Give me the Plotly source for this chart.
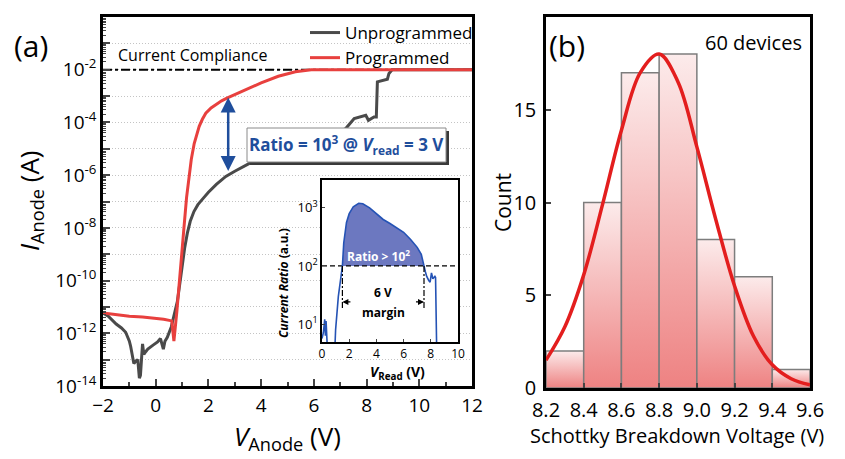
import numpy as np
import plotly.graph_objects as go

# ---------------- (a) I-V data (log10 of anode current, A) ----------------
unprog_v = [-2.0, -1.8, -1.5, -1.3, -1.14, -1.0, -0.95, -0.83, -0.75, -0.68, -0.62, -0.58,
            -0.5, -0.45, -0.38, -0.3, -0.1, 0.07, 0.18, 0.25, 0.29, 0.35, 0.44, 0.59, 0.7,
            0.82, 0.93, 1.0, 1.1, 1.2, 1.31, 1.45, 1.6, 1.8, 2.0, 2.3, 2.66, 3.0, 3.52, 4.0, 5.0,
            6.0, 6.7, 7.0, 7.21, 7.53, 7.97, 8.07, 8.28, 8.37, 8.41, 8.79, 8.85, 8.97, 12.0]
unprog_log_i = [-11.23, -11.35, -11.65, -11.8, -11.96, -12.3, -12.5, -13.15, -13.05, -13.0, -13.7, -13.6,
                -12.4, -12.8, -12.7, -12.6, -12.45, -12.33, -12.2, -12.4, -12.6, -12.3, -12.15, -11.76, -11.3,
                -10.8, -10.0, -9.45, -8.75, -8.2, -7.75, -7.38, -7.12, -6.88, -6.65, -6.35, -6.05, -5.85,
                -5.57, -5.35, -5.0, -4.7, -4.45, -4.35, -4.23, -3.85, -3.73, -3.92, -3.79, -3.79, -2.46,
                -2.36, -2.14, -2.0, -2.0]

prog_v = [-2.0, -1.5, -1.0, -0.5, 0.0, 0.3, 0.61, 0.69, 0.8, 0.92, 1.0, 1.08, 1.17, 1.25, 1.35,
          1.46, 1.55, 1.65, 1.77, 1.9, 2.1, 2.3, 2.5, 2.7, 3.0, 3.5, 4.0, 4.65, 5.3, 5.9, 12.0]
prog_log_i = [-11.23, -11.3, -11.35, -11.38, -11.42, -11.47, -11.53, -12.3, -11.2, -9.9, -8.9, -7.9,
              -6.85, -6.1, -5.4, -4.8, -4.45, -4.15, -3.88, -3.65, -3.45, -3.3, -3.18, -3.08, -2.95,
              -2.72, -2.5, -2.25, -2.08, -2.0, -2.0]

compliance_v = [-2.0, 12.0]
compliance_i = [1e-2, 1e-2]

# ---------------- inset: current ratio vs V_read ----------------
ratio_v = [0.0, 0.1, 0.2, 0.25, 0.3, 0.35, 0.45, 0.9, 1.0, 1.2, 1.5, 1.6, 1.8, 2.0, 2.3, 2.7,
           3.0, 3.5, 4.0, 4.5, 5.0, 5.5, 6.0, 6.5, 7.0, 7.3, 7.4, 7.5, 7.6, 7.7, 7.85, 7.95,
           8.05, 8.15, 8.3, 8.35, 8.45]
ratio_log = [0.75, 0.85, 1.08, 0.8, 1.05, 0.85, 0.3, 0.3, 0.9, 1.47, 2.0, 2.4, 2.75, 2.9, 3.02, 3.08,
             3.07, 3.0, 2.9, 2.8, 2.73, 2.66, 2.58, 2.46, 2.32, 2.2, 2.12, 2.0, 1.9, 1.82, 1.75, 1.72,
             1.88, 1.78, 1.82, 1.8, 0.3]
ratio_threshold = 100.0
margin_v = [1.5, 7.5]
margin_bottom_log = 1.25

# ---------------- (b) histogram ----------------
bin_edges = [8.2, 8.4, 8.6, 8.8, 9.0, 9.2, 9.4, 9.6]
counts = [2, 10, 17, 18, 8, 6, 1]
fit_v = [8.2, 8.3, 8.4, 8.5, 8.6, 8.7, 8.8, 8.9, 9.0, 9.1, 9.2, 9.3, 9.4, 9.5, 9.6]
fit_count = [1.5, 3.3, 6.1, 9.9, 13.9, 17.0, 18.0, 16.5, 13.0, 9.1, 5.5, 2.8, 1.25, 0.5, 0.17]

# ---------------- styling ----------------
# the page body has an 8px margin, so the figure is placed at (8, 8) in the window
OFF = 8
W, H = 845 - OFF, 459 - OFF
FONT = "Open Sans"
BLUE = "#1f4e9c"


def px(xp):
    return (xp - OFF) / W


def py(yp):
    return 1 - (yp - OFF) / H


fig = go.Figure()

# main panel traces
fig.add_trace(go.Scatter(x=compliance_v, y=compliance_i, mode="lines", showlegend=False,
                         line=dict(color="black", width=2, dash="9px,3px,3px,3px"),
                         xaxis="x", yaxis="y", hoverinfo="skip"))
fig.add_trace(go.Scatter(x=unprog_v, y=10 ** np.array(unprog_log_i), mode="lines", name="Unprogrammed",
                         line=dict(color="#4a4a4a", width=3), xaxis="x", yaxis="y"))
fig.add_trace(go.Scatter(x=prog_v, y=10 ** np.array(prog_log_i), mode="lines", name="Programmed",
                         line=dict(color="#e8403e", width=3), xaxis="x", yaxis="y"))

# inset traces
rv = np.array(ratio_v)
rl = np.array(ratio_log)
mask = (rv >= margin_v[0]) & (rv <= margin_v[1])
fill_x = list(rv[mask]) + [margin_v[1], margin_v[0]]
fill_y = list(10 ** rl[mask]) + [ratio_threshold, ratio_threshold]
fig.add_trace(go.Scatter(x=fill_x, y=fill_y, fill="toself", fillcolor="#6c78c0", mode="lines",
                         line=dict(width=0), showlegend=False, xaxis="x3", yaxis="y3", hoverinfo="skip"))
fig.add_trace(go.Scatter(x=[0, 10], y=[ratio_threshold, ratio_threshold], mode="lines", showlegend=False,
                         line=dict(color="black", width=1.3, dash="5px,3px"), xaxis="x3", yaxis="y3"))
fig.add_trace(go.Scatter(x=ratio_v, y=10 ** rl, mode="lines", showlegend=False,
                         line=dict(color="#2553b5", width=1.6), xaxis="x3", yaxis="y3"))
for mv in margin_v:
    fig.add_trace(go.Scatter(x=[mv, mv], y=[ratio_threshold, 10 ** margin_bottom_log], mode="lines",
                             showlegend=False, line=dict(color="black", width=1.2, dash="6px,2px,2px,2px"),
                             xaxis="x3", yaxis="y3"))

# histogram bars with vertical gradient
for i, c in enumerate(counts):
    l, r = bin_edges[i], bin_edges[i + 1]
    fig.add_trace(go.Scatter(
        x=[l, l, r, r, l], y=[0, c, c, 0, 0], mode="lines", fill="toself",
        fillgradient=dict(type="vertical", colorscale=[[0, "#ee8282"], [1, "#fcebeb"]], start=0, stop=c),
        line=dict(color="#7d7d7d", width=1.5), showlegend=False, xaxis="x2", yaxis="y2",
        hoverinfo="skip"))
fig.add_trace(go.Scatter(x=fit_v, y=fit_count, mode="lines", showlegend=False,
                         line=dict(color="#e31e1e", width=3.5, shape="spline"), xaxis="x2", yaxis="y2"))

# axes
y_major = [10.0 ** k for k in range(-14, 1)]
y_text = ["10<sup>%d</sup>" % k if k % 2 == 0 else "" for k in range(-14, 1)]
y_minor = [m * 10.0 ** k for k in range(-14, 0) for m in range(2, 10)]

axis_common = dict(showline=True, mirror=True, linecolor="black", zeroline=False, automargin=False)

fig.update_layout(
    width=W, height=H, margin=dict(l=0, r=0, t=0, b=0, pad=0, autoexpand=False),
    paper_bgcolor="white", plot_bgcolor="white",
    font=dict(family=FONT, color="black"),
    xaxis=dict(domain=[px(103), px(472)], range=[-2, 12], anchor="y", **axis_common, linewidth=2.5,
               tickmode="array", tickvals=list(range(-2, 13, 2)), ticks="inside", ticklen=7, tickwidth=2,
               tickfont=dict(size=19), showgrid=False,
               minor=dict(tickmode="array", tickvals=list(range(-1, 12, 2)), ticks="inside", ticklen=4,
                          tickwidth=1.5, showgrid=False)),
    yaxis=dict(domain=[py(386), py(17)], type="log", range=[-14, 0], anchor="x", **axis_common, linewidth=2.5,
               tickmode="array", tickvals=y_major, ticktext=y_text, ticks="inside", ticklen=7, tickwidth=2,
               tickfont=dict(size=19), showgrid=True, gridcolor="#c4c4c4", griddash="1px,2px", gridwidth=1,
               minor=dict(tickmode="array", tickvals=y_minor, ticks="inside", ticklen=3, tickwidth=1,
                          showgrid=False)),
    xaxis2=dict(domain=[px(546), px(810)], range=[8.2, 9.6], anchor="y2", **axis_common, linewidth=2.5,
                tickmode="array", tickvals=bin_edges, ticktext=["%.1f" % b for b in bin_edges],
                ticks="inside", ticklen=5, tickwidth=2, tickfont=dict(size=20), showgrid=False,
                ticklabelstandoff=2),
    yaxis2=dict(domain=[py(388), py(17)], range=[0, 20], anchor="x2", **axis_common, linewidth=2.5,
                tickmode="array", tickvals=[0, 5, 10, 15, 20], ticks="inside", ticklen=5, tickwidth=2,
                tickfont=dict(size=20), showgrid=False, ticklabelstandoff=3),
    xaxis3=dict(domain=[px(322), px(458)], range=[0, 10], anchor="y3", **axis_common, linewidth=1.5,
                tickmode="array", tickvals=[0, 2, 4, 6, 8, 10], ticks="inside", ticklen=3, tickwidth=1,
                tickfont=dict(size=12), showgrid=False),
    yaxis3=dict(domain=[py(342), py(180)], type="log", range=[0.69, 3.48], anchor="x3", **axis_common,
                linewidth=1.5, tickmode="array", tickvals=[10, 100, 1000],
                ticktext=["10<sup>1</sup>", "10<sup>2</sup>", "10<sup>3</sup>"], ticks="inside", ticklen=3,
                tickwidth=1, tickfont=dict(size=13), showgrid=False),
    legend=dict(x=px(305), y=py(15), xanchor="left", yanchor="top", font=dict(size=17),
                bgcolor="rgba(0,0,0,0)", itemwidth=30, tracegroupgap=0),
)

shapes = [
    # white background of inset (hides main-panel gridlines)
    dict(type="rect", xref="x3", yref="y3", x0=0, x1=10, y0=0.69, y1=3.48, layer="below",
         fillcolor="white", line=dict(width=0)),
    # shadow and box of the ratio label
    dict(type="rect", xref="paper", yref="paper", x0=px(250), x1=px(449), y0=py(165), y1=py(131),
         layer="above", fillcolor="#3a3a3a", line=dict(width=0)),
    dict(type="rect", xref="paper", yref="paper", x0=px(247), x1=px(446), y0=py(162), y1=py(128),
         layer="above", fillcolor="white", line=dict(color="#8a8a8a", width=1)),
]

annotations = [
    dict(text="(a)", x=px(12), y=py(45), xref="paper", yref="paper", xanchor="left", yanchor="middle",
         showarrow=False, font=dict(size=30)),
    dict(text="Current Compliance", x=px(116), y=py(55), xref="paper", yref="paper", xanchor="left",
         yanchor="middle", showarrow=False, font=dict(size=16)),
    dict(text="<b>Ratio = 10<sup>3</sup> @ <i>V</i><sub>read</sub> = 3 V</b>", x=px(346.5), y=py(145),
         xref="paper", yref="paper", xanchor="center", yanchor="middle", showarrow=False,
         font=dict(size=17, color=BLUE)),
    dict(text="", x=2.75, y=-3.05, ax=2.75, ay=-5.9, xref="x", yref="y", axref="x", ayref="y",
         showarrow=True, arrowhead=2, startarrowhead=2, arrowside="end+start", arrowsize=1.2,
         arrowwidth=2.5, arrowcolor=BLUE, standoff=0, startstandoff=0),
    dict(text="<i>I</i><sub>Anode</sub> (A)", x=px(30), y=py(201), xref="paper", yref="paper",
         textangle=-90, xanchor="center", yanchor="middle", showarrow=False, font=dict(size=26)),
    dict(text="<i>V</i><sub>Anode</sub> (V)", x=px(287), y=py(437), xref="paper", yref="paper",
         xanchor="center", yanchor="middle", showarrow=False, font=dict(size=26)),
    # inset texts
    dict(text="<b><i>Current Ratio</i> (a.u.)</b>", x=px(283), y=py(283), xref="paper", yref="paper",
         textangle=-90, xanchor="center", yanchor="middle", showarrow=False, font=dict(size=12)),
    dict(text="<b><i>V</i><sub>Read</sub> (V)</b>", x=px(397), y=py(372), xref="paper", yref="paper",
         xanchor="center", yanchor="middle", showarrow=False, font=dict(size=14)),
    dict(text="<b>Ratio > 10<sup>2</sup></b>", x=px(378), y=py(256), xref="paper", yref="paper",
         xanchor="center", yanchor="middle", showarrow=False, font=dict(size=12, color="white")),
    dict(text="<b>6 V</b>", x=px(383), y=py(292), xref="paper", yref="paper",
         xanchor="center", yanchor="middle", showarrow=False, font=dict(size=12)),
    dict(text="<b>margin</b>", x=px(383), y=py(312), xref="paper", yref="paper",
         xanchor="center", yanchor="middle", showarrow=False, font=dict(size=12)),
    dict(text="", x=margin_v[0], y=1.38, ax=2.2, ay=1.38, xref="x3", yref="y3", axref="x3", ayref="y3",
         showarrow=True, arrowhead=2, arrowsize=1, arrowwidth=1.2, arrowcolor="black", standoff=0),
    dict(text="", x=margin_v[1], y=1.38, ax=6.8, ay=1.38, xref="x3", yref="y3", axref="x3", ayref="y3",
         showarrow=True, arrowhead=2, arrowsize=1, arrowwidth=1.2, arrowcolor="black", standoff=0),
    # (b) texts
    dict(text="(b)", x=px(547), y=py(45), xref="paper", yref="paper", xanchor="left", yanchor="middle",
         showarrow=False, font=dict(size=30)),
    dict(text="60 devices", x=px(804), y=py(42), xref="paper", yref="paper", xanchor="right",
         yanchor="middle", showarrow=False, font=dict(size=20)),
    dict(text="Count", x=px(503), y=py(203), xref="paper", yref="paper", textangle=-90,
         xanchor="center", yanchor="middle", showarrow=False, font=dict(size=21)),
    dict(text="Schottky Breakdown Voltage (V)", x=px(677), y=py(435), xref="paper", yref="paper",
         xanchor="center", yanchor="middle", showarrow=False, font=dict(size=20)),
]

fig.update_layout(shapes=shapes, annotations=annotations)
fig.write_html("out.html")
